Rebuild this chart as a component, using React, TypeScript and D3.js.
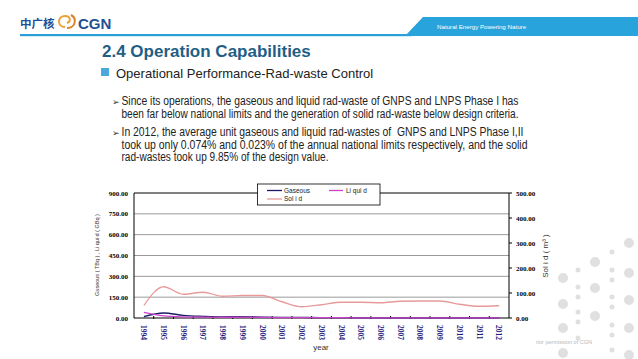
import React from "react";
import * as d3 from "d3";

const years = ["1994","1995","1996","1997","1998","1999","2000","2001","2002","2003","2004","2005","2006","2007","2008","2009","2010","2011","2012"];
const gaseous = [10, 36, 19, 12, 8, 10, 7, 5, 4, 3, 3, 1, 1, 1, 1, 1, 1, 1, 1];
const liquid = [40, 15, 8, 6, 5, 6, 4, 3, 2, 2, 2, 1, 1, 1, 1, 1, 1, 1, 1];
const solid = [50, 125, 95, 103, 87, 90, 90, 65, 45, 53, 63, 63, 61, 67, 68, 68, 55, 47, 49];
const leftTicks = [0, 150, 300, 450, 600, 750, 900];
const rightTicks = [0, 100, 200, 300, 400, 500];

const bodyLines = [
  { t: "Since its operations, the gaseous and liquid rad-waste of GNPS and LNPS Phase I has", y: 105, w: 397, bullet: true },
  { t: "been far below national limits and the generation of solid rad-waste below design criteria.", y: 118, w: 397, bullet: false },
  { t: "In 2012, the average unit gaseous and liquid rad-wastes of\u00A0\u00A0GNPS and LNPS Phase I,II", y: 136, w: 402, bullet: true },
  { t: "took up only 0.074% and 0.023% of the annual national limits respectively, and the solid", y: 148.5, w: 406, bullet: false },
  { t: "rad-wastes took up 9.85% of the design value.", y: 161, w: 207, bullet: false },
];

const dots = [
  [629, 243, 5], [595, 262, 5], [629, 273, 5], [563, 278, 5], [595, 288, 5], [629, 300, 5],
  [563, 304, 5], [595, 316, 5], [629, 328, 5], [563, 328, 5], [629, 355, 5], [563, 353, 5],
  [578, 270, 2.5], [612, 252, 2.5], [612, 270, 2.5], [612, 280, 2.5], [578, 287, 2.5], [578, 297, 2.5],
  [612, 297, 2.5], [612, 307, 2.5], [578, 312, 2.5], [578, 322, 2.5], [612, 325, 2.5], [612, 335, 2.5],
  [578, 338, 2.5], [612, 350, 2.5],
];

export default function App() {
  const L = 134, R = 509, T = 193, B = 318;
  const x = d3.scaleBand<string>().domain(years).range([L, R]).padding(0);
  const yL = d3.scaleLinear().domain([0, 900]).range([B, T]);
  const yR = d3.scaleLinear().domain([0, 500]).range([B, T]);
  const cx = (i: number) => (x(years[i]) as number) + x.bandwidth() / 2;
  const lineL = d3.line<number>().x((_, i) => cx(i)).y((d) => yL(d)).curve(d3.curveMonotoneX);
  const lineR = d3.line<number>().x((_, i) => cx(i)).y((d) => yR(d)).curve(d3.curveMonotoneX);
  const tickFont = { fontFamily: "'Liberation Serif', 'Times New Roman', serif", fontWeight: 700, fontSize: 7 };

  const cGas = "#1c1a66";
  const cLiq = "#cc44cc";
  const cSol = "#e89a9a";

  return (
    <svg width={638} height={359} style={{ position: "absolute", left: 0, top: 0 }} fontFamily="'Liberation Sans', Arial, sans-serif">
      <rect x={0} y={0} width={638} height={359} fill="#fff" />
      {/* header */}
      <rect x={20} y={34} width={392} height={2.2} fill="#2aa0d8" />
      <path d="M 405 36 L 423 17 L 638 17 L 638 36 Z" fill="#29a3dc" />
      <text x={437} y={29} fontSize={6.2} fill="#fff">Natural Energy Powering Nature</text>
      <text x={20} y={28} fontSize={11.5} fontWeight={700} fill="#1f4f95" fontFamily="'Noto Sans CJK SC', sans-serif">中广核</text>
      <g fill="none" stroke="#e8a23a" strokeWidth={2}>
        <path d="M 65 27 C 57 27 57 16 65 16 C 71 16 71 22 67 23" />
        <path d="M 67 28 C 76 28 77 18 71 15" stroke="#d9822b" />
      </g>
      <text x={78} y={28.5} fontSize={15} fontWeight={700} fill="#1f4f95">CGN</text>

      {/* title */}
      <text x={102} y={56.5} fontSize={17} fontWeight={700} fill="#1f5f86">2.4 Operation Capabilities</text>
      <rect x={101} y={68} width={8} height={8} fill="#4aa8dc" />
      <text x={116} y={77.5} fontSize={13} fill="#222">Operational Performance-Rad-waste Control</text>
      {bodyLines.map((l, i) => (
        <g key={i}>
          {l.bullet && <text x={112} y={l.y} fontSize={9} fill="#333">➢</text>}
          <text x={121.5} y={l.y} fontSize={12.3} fill="#222" textLength={l.w} lengthAdjust="spacingAndGlyphs">{l.t}</text>
        </g>
      ))}

      {/* decoration */}
      {dots.map((d, i) => (
        <circle key={i} cx={d[0]} cy={d[1]} r={d[2]} fill="#e0e0e0" />
      ))}
      <text x={536} y={344} fontSize={5.5} fill="#b8b8b8">rior permission of CGN</text>

      {/* gridlines */}
      {leftTicks.filter((t) => t > 0 && t < 900).map((t) => (
        <line key={t} x1={L} x2={R} y1={yL(t)} y2={yL(t)} stroke="#808080" strokeWidth={0.8} />
      ))}
      {/* border */}
      <path d={`M ${L} ${B} L ${L} ${T} L ${R} ${T} L ${R} ${B}`} fill="none" stroke="#000" strokeWidth={1} />
      <line x1={L} x2={R} y1={B} y2={B} stroke="#000" strokeWidth={1} />

      {/* left ticks */}
      {leftTicks.map((t) => (
        <text key={t} x={128} y={yL(t) + 2.5} textAnchor="end" {...tickFont} fill="#000">{t.toFixed(2)}</text>
      ))}
      {/* right ticks */}
      {rightTicks.map((t) => (
        <g key={t}>
          <line x1={R} x2={R + 3} y1={yR(t)} y2={yR(t)} stroke="#000" />
          <text x={516} y={yR(t) + 2.5} {...tickFont} fill="#000">{t.toFixed(2)}</text>
        </g>
      ))}
      {/* x ticks */}
      {years.map((yv, i) => (
        <g key={yv}>
          {i > 0 && <line x1={x(yv) as number} x2={x(yv) as number} y1={B - 2} y2={B + 1} stroke="#000" />}
          <text transform={`translate(${cx(i) - 2.7},${B + 7}) rotate(90)`} {...tickFont} fontSize={7.5} fill="#1c1a7a">{yv}</text>
        </g>
      ))}

      {/* series */}
      <path d={lineR(solid) || ""} fill="none" stroke={cSol} strokeWidth={1.3} />
      <path d={lineL(gaseous) || ""} fill="none" stroke={cGas} strokeWidth={1.3} />
      <path d={lineL(liquid) || ""} fill="none" stroke={cLiq} strokeWidth={1.3} />

      {/* axis titles */}
      <text transform="translate(99,255) rotate(-90)" textAnchor="middle" fontSize={5.5} fill="#333">Gaseous ( TBq ) , Li qui d ( GBq )</text>
      <text transform="translate(548,256) rotate(-90)" textAnchor="middle" fontSize={8} fill="#333">Sol i d ( m³ )</text>
      <text x={321} y={350} textAnchor="middle" fontSize={8} fill="#333">year</text>

      {/* legend */}
      <rect x={257.5} y={184} width={122.5} height={21} fill="#fff" stroke="#000" strokeWidth={0.8} />
      <line x1={267} x2={282} y1={190.5} y2={190.5} stroke={cGas} strokeWidth={1.3} />
      <text x={284} y={192.8} fontSize={6.5} fill="#222">Gaseous</text>
      <line x1={329} x2={343} y1={190.5} y2={190.5} stroke={cLiq} strokeWidth={1.3} />
      <text x={346} y={192.8} fontSize={6.5} fill="#222">Li qui d</text>
      <line x1={267} x2={282} y1={199} y2={199} stroke={cSol} strokeWidth={1.3} />
      <text x={284} y={201.3} fontSize={6.5} fill="#222">Sol i d</text>
    </svg>
  );
}
